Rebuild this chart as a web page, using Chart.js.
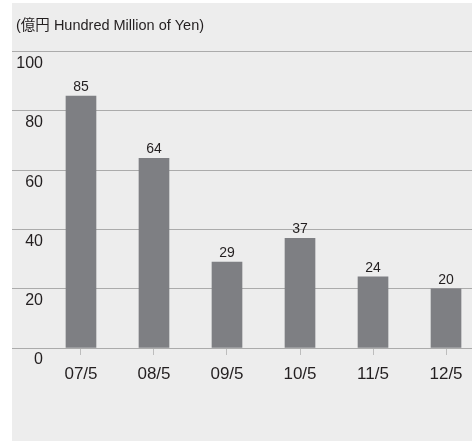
<!DOCTYPE html>
<html>
<head>
<meta charset="utf-8">
<script src="https://cdn.jsdelivr.net/npm/chart.js@4"></script>
<style>
    body { margin: 0; background: #ffffff; }
    #panel { position: absolute; left: 12px; top: 3px; width: 460px; height: 438px; background: #ededed; }
</style>
</head>
<body>
<div id="panel"><canvas id="BarSales"></canvas></div>
<script>
const periods = ['07/5', '08/5', '09/5', '10/5', '11/5', '12/5'];
const amounts = [85, 64, 29, 37, 24, 20];
const yTicks = [0, 20, 40, 60, 80, 100];

// value labels above each bar (no datalabels plugin offline)
const barValues = {
    id: 'barValues',
    afterDatasetsDraw(chart) {
        const ctx = chart.ctx;
        const meta = chart.getDatasetMeta(0);
        ctx.save();
        ctx.font = "14px 'Liberation Sans Narrow', 'Liberation Sans', sans-serif";
        ctx.fillStyle = '#231f20';
        ctx.textAlign = 'center';
        ctx.textBaseline = 'alphabetic';
        meta.data.forEach((bar, i) => {
            ctx.fillText(String(amounts[i]), bar.x, bar.y - 5);
        });
        ctx.restore();
    }
};

const Y_AXIS_WIDTH = 43;

let BarSales = new Chart(
    document.getElementById('BarSales'), {
        type: 'bar',
        plugins: [barValues],
        data: {
            datasets: [
                {
                    label: 'Sales',
                    data: amounts.map((v, i) => ({x: i, y: v})),
                    backgroundColor: '#7e7f83',
                    barThickness: 30,
                },
            ]
        },
        options: {
            animation: false,
            responsive: true,
            maintainAspectRatio: false,
            layout: {
                padding: {left: 0, right: 0, top: 0, bottom: 47.6}
            },
            scales: {
                x: {
                    type: 'linear',
                    offset: false,
                    min: -0.356,
                    max: 5.356,
                    grid: {
                        offset: false,
                        drawOnChartArea: false,
                        tickLength: 7,
                        color: '#bdbdbd',
                    },
                    border: { display: false },
                    ticks: {
                        stepSize: 1,
                        includeBounds: false,
                        maxRotation: 0,
                        autoSkip: false,
                        padding: 9,
                        color: '#231f20',
                        font: { family: "'Liberation Sans', sans-serif", size: 17 },
                        callback: (v) => periods[v] ?? '',
                    }
                },
                y: {
                    min: 0,
                    max: 100,
                    // tick marks run under the labels so grid lines span the full panel
                    afterFit: (scale) => { scale.width = Y_AXIS_WIDTH; },
                    afterBuildTicks: (scale) => { scale.ticks = yTicks.map(v => ({value: v})); },
                    grid: {
                        drawTicks: true,
                        tickLength: Y_AXIS_WIDTH,
                        color: '#ababab',
                    },
                    border: { display: false },
                    ticks: {
                        autoSkip: false,
                        crossAlign: 'near',
                        padding: 12 - Y_AXIS_WIDTH,
                        labelOffset: 12,
                        color: '#231f20',
                        font: { family: "'Liberation Sans', sans-serif", size: 16 },
                    }
                }
            },
            plugins: {
                title: {
                    display: true,
                    align: 'start',
                    text: ' (億円 Hundred Million of Yen)',
                    color: '#231f20',
                    padding: {top: 14.6, bottom: 16.6},
                    font: { family: "'Liberation Sans', 'Noto Sans CJK JP', sans-serif", size: 14.5, weight: 'normal' },
                },
                legend: {
                    display: false
                },
                tooltip: {
                    enabled: false
                },
            },
        },
    }
);
</script>
</body>
</html>
